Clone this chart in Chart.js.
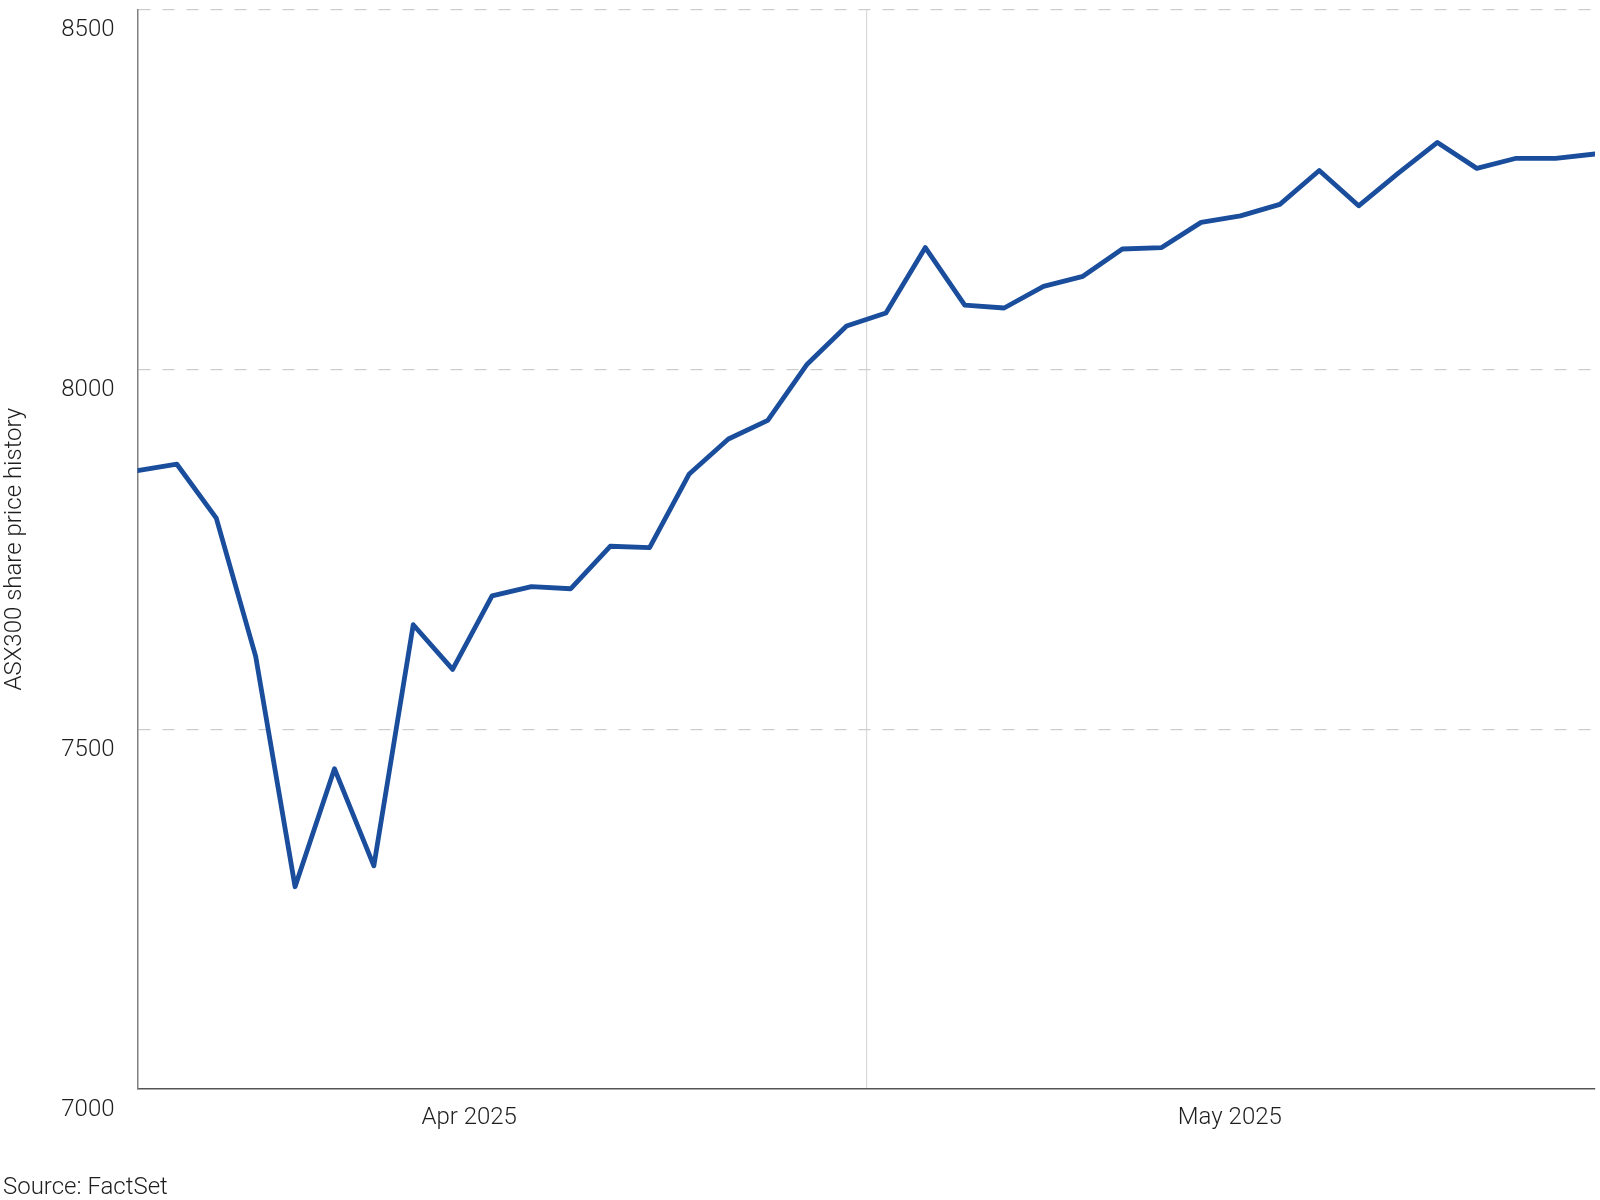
<!DOCTYPE html>
<html>
<head>
<meta charset="utf-8">
<title>ASX300 share price history</title>
<script src="https://cdn.jsdelivr.net/npm/chart.js@4.4.1/dist/chart.umd.min.js"></script>
<style>
    body { margin: 0; background: #fff; }
    #wrap { position: relative; width: 1600px; height: 1200px; }
    #source {
        position: absolute; left: 3px; top: 1172px;
        font: 300 24px Roboto, sans-serif; line-height: 28px; color: #1e1e1e;
    }
</style>
</head>
<body>
<div id="wrap">
    <canvas id="asxChart"></canvas>
    <div id="source">Source: FactSet</div>
</div>
<script>
// ASX trading days, 1 Apr - 27 May 2025
const tradingDays = [
    '2025-04-01', '2025-04-02', '2025-04-03', '2025-04-04', '2025-04-07', '2025-04-08',
    '2025-04-09', '2025-04-10', '2025-04-11', '2025-04-14', '2025-04-15', '2025-04-16',
    '2025-04-17', '2025-04-22', '2025-04-23', '2025-04-24', '2025-04-28', '2025-04-29',
    '2025-04-30', '2025-05-01', '2025-05-02', '2025-05-05', '2025-05-06', '2025-05-07',
    '2025-05-08', '2025-05-09', '2025-05-12', '2025-05-13', '2025-05-14', '2025-05-15',
    '2025-05-16', '2025-05-19', '2025-05-20', '2025-05-21', '2025-05-22', '2025-05-23',
    '2025-05-26', '2025-05-27'
];
const asx300 = [
    7859, 7868, 7793, 7601, 7281, 7445, 7310, 7645, 7583, 7685, 7698, 7695,
    7754, 7752, 7854, 7903, 7929, 8007, 8060, 8078, 8169, 8089, 8085, 8115,
    8129, 8167, 8169, 8204, 8213, 8229, 8276, 8227, 8272, 8315, 8279, 8293,
    8293, 8299
];
// month labels and the Apr/May break, in trading-day index units
const monthLabels = ['Apr 2025', 'May 2025'];
const monthLabelAt = [8.42, 27.73];
const monthBreakAt = 18.5;
const yTicks = [7000, 7500, 8000, 8500];

const textColor = '#1e1e1e';
const font = { family: 'Roboto, sans-serif', size: 24, weight: 300 };

const points = asx300.map((v, i) => ({ x: i, y: v }));

new Chart(document.getElementById('asxChart'), {
    type: 'line',
    data: {
        datasets: [{
            label: 'ASX300',
            data: points,
            borderColor: '#1a4e9c',
            borderWidth: 4.8,
            borderJoinStyle: 'round',
            borderCapStyle: 'round',
            pointRadius: 0,
            tension: 0,
            fill: false
        }]
    },
    options: {
        responsive: true,
        maintainAspectRatio: false,
        animation: false,
        layout: { padding: { top: 9.3, right: 5, bottom: 0, left: 0 } },
        plugins: {
            legend: { display: false },
            tooltip: { enabled: false }
        },
        scales: {
            x: {
                type: 'linear',
                min: 0,
                max: tradingDays.length - 1,
                afterBuildTicks: (scale) => {
                    scale.ticks = monthLabelAt.map(v => ({ value: v }))
                        .concat([{ value: monthBreakAt }]);
                },
                afterFit: (scale) => {
                    scale.height = 111;
                    scale.paddingLeft = 0;
                    scale.paddingRight = 0;
                },
                ticks: {
                    autoSkip: false,
                    maxRotation: 0,
                    padding: 15,
                    color: textColor,
                    font: font,
                    callback: (value) => {
                        const k = monthLabelAt.indexOf(value);
                        return k >= 0 ? monthLabels[k] : '';
                    }
                },
                grid: {
                    drawTicks: false,
                    lineWidth: 1.2,
                    color: (ctx) => (ctx.tick && ctx.tick.value === monthBreakAt) ? '#d9d9d9' : 'rgba(0,0,0,0)'
                },
                border: { display: true, color: '#555555', width: 1.5 }
            },
            y: {
                min: 7000,
                max: 8500,
                afterBuildTicks: (scale) => {
                    scale.ticks = yTicks.map(v => ({ value: v }));
                },
                afterFit: (scale) => {
                    scale.width = 137.5;
                    scale.paddingTop = 0;
                    scale.paddingBottom = 0;
                },
                ticks: {
                    padding: 23,
                    labelOffset: 20.5,
                    color: textColor,
                    font: font,
                    callback: (value) => String(value)
                },
                grid: {
                    drawTicks: false,
                    lineWidth: 1.2,
                    color: (ctx) => (ctx.tick && ctx.tick.value === 7000) ? 'rgba(0,0,0,0)' : '#cccccc'
                },
                border: { display: true, color: '#808080', width: 1.5, dash: [12, 12] },
                title: {
                    display: true,
                    text: 'ASX300 share price history',
                    color: textColor,
                    font: font,
                    padding: { top: 1, bottom: 0 }
                }
            }
        }
    }
});
</script>
</body>
</html>
